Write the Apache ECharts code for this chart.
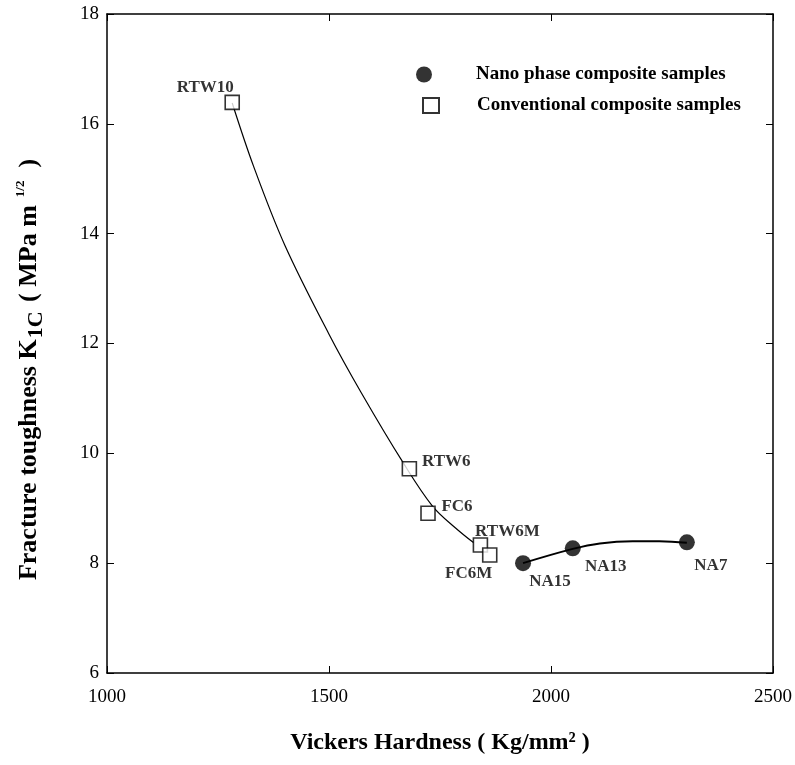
<!DOCTYPE html>
<html>
<head>
<meta charset="utf-8">
<script src="https://cdn.jsdelivr.net/npm/echarts@6/dist/echarts.min.js"></script>
<style>
html,body{margin:0;padding:0;background:#fff;}
#chart{width:795px;height:765px;}
</style>
</head>
<body>
<div id="chart"></div>
<script>
// ---- data ----
const conventionalNames = ['RTW10', 'RTW6', 'FC6', 'RTW6M', 'FC6M'];
const conventionalHV = [1282, 1681, 1723, 1841, 1862];
const conventionalK = [16.39, 9.72, 8.91, 8.33, 8.15];

const nanoNames = ['NA15', 'NA13', 'NA7'];
const nanoHV = [1937, 2049, 2306];
const nanoK = [8.00, 8.27, 8.38];

// fitted curves
const convFitHV = [1282, 1330, 1400, 1500, 1573, 1667, 1733, 1785, 1826];
const convFitK = [16.38, 15.23, 13.80, 12.17, 11.10, 9.83, 9.04, 8.64, 8.37];
const nanoFitHV = [1937, 2049, 2110, 2184, 2244, 2306];
const nanoFitK = [8.00, 8.26, 8.36, 8.40, 8.40, 8.37];

const xTicks = [1000, 1500, 2000, 2500];
const yTicks = [6, 8, 10, 12, 14, 16, 18];

// ---- label placement (styles, not data) ----
const labelOffset = {
  RTW10: [-27, -15], RTW6: [37, -7], FC6: [29, -7], RTW6M: [27, -13], FC6M: [-21, 19],
  NA15: [27, 18], NA13: [33, 18], NA7: [24, 23]
};

const serif = "'Liberation Serif', 'DejaVu Serif', serif";

function pts(names, xs, ys) {
  return names.map((n, i) => ({
    name: n,
    value: [xs[i], ys[i]],
    label: { offset: labelOffset[n] }
  }));
}
function line(xs, ys) { return xs.map((x, i) => [x, ys[i]]); }

const labelStyle = {
  show: true, position: 'inside', formatter: '{b}',
  fontFamily: serif, fontWeight: 'bold', fontSize: 17, color: '#000'
};

const legendText = { fontFamily: serif, fontWeight: 'bold', fontSize: 19, color: '#000' };

const chart = echarts.init(document.getElementById('chart'), null, { renderer: 'canvas' });
const axisLineStyle = { color: '#000', width: 1.5 };
chart.setOption({
  animation: false,
  backgroundColor: '#fff',
  grid: { left: 107, right: 18, top: 14, bottom: 92 },
  legend: [{
    left: 411, top: 60, itemWidth: 16, itemHeight: 16,
    data: ['Nano phase composite samples'],
    textStyle: Object.assign({ padding: [0, 0, 0, 39] }, legendText)
  }, {
    left: 417, top: 91, itemWidth: 16, itemHeight: 15,
    data: ['Conventional composite samples'],
    textStyle: Object.assign({ padding: [0, 0, 0, 33] }, legendText)
  }],
  xAxis: [{
    type: 'value', min: 1000, max: 2500, interval: 500, position: 'bottom',
    name: 'Vickers Hardness ( Kg/mm\u00B2 )', nameLocation: 'middle', nameGap: 58,
    nameTextStyle: { fontFamily: serif, fontWeight: 'bold', fontSize: 24, color: '#000' },
    axisLine: { lineStyle: axisLineStyle },
    axisTick: { inside: true, length: 7, lineStyle: { color: '#000' } },
    axisLabel: { fontFamily: serif, fontSize: 19, color: '#000', margin: 15,
      formatter: v => xTicks.includes(v) ? String(v) : '' },
    splitLine: { show: false }
  }, {
    type: 'value', min: 1000, max: 2500, interval: 500, position: 'top',
    axisLine: { lineStyle: axisLineStyle },
    axisTick: { inside: true, length: 7, lineStyle: { color: '#000' } },
    axisLabel: { show: false }, splitLine: { show: false }
  }],
  yAxis: [{
    type: 'value', min: 6, max: 18, interval: 2, position: 'left',
    name: '{b|Fracture toughness K}{sub|1C}{b| ( MPa m}{sup|1/2}{b|  )}',
    nameLocation: 'middle', nameGap: 60, nameRotate: 90,
    nameTextStyle: {
      padding: [0, 52, 0, 0],
      rich: {
        b: { fontFamily: serif, fontWeight: 'bold', fontSize: 26, color: '#000' },
        sub: { fontFamily: serif, fontWeight: 'bold', fontSize: 22, color: '#000', padding: [13, 3, 0, 1] },
        sup: { fontFamily: serif, fontWeight: 'bold', fontSize: 13, color: '#000', padding: [0, 0, 18, 8] }
      }
    },
    axisLine: { lineStyle: axisLineStyle },
    axisTick: { inside: true, length: 7, lineStyle: { color: '#000' } },
    axisLabel: { fontFamily: serif, fontSize: 19, color: '#000', margin: 8,
      formatter: v => yTicks.includes(v) ? String(v) : '' },
    splitLine: { show: false }
  }, {
    type: 'value', min: 6, max: 18, interval: 2, position: 'right',
    axisLine: { lineStyle: axisLineStyle },
    axisTick: { inside: true, length: 7, lineStyle: { color: '#000' } },
    axisLabel: { show: false }, splitLine: { show: false }
  }],
  series: [
    {
      name: 'conv-fit', type: 'line', smooth: 0.35, showSymbol: false, silent: true,
      data: line(convFitHV, convFitK), lineStyle: { color: '#000', width: 1.2 }, z: 1
    },
    {
      name: 'nano-fit', type: 'line', smooth: 0.4, showSymbol: false, silent: true,
      data: line(nanoFitHV, nanoFitK), lineStyle: { color: '#000', width: 2 }, z: 1
    },
    {
      name: 'Nano phase composite samples', type: 'scatter', symbol: 'circle', symbolSize: 16,
      itemStyle: { color: '#000' }, label: labelStyle,
      data: pts(nanoNames, nanoHV, nanoK), z: 3
    },
    {
      name: 'Conventional composite samples', type: 'scatter', symbol: 'rect', symbolSize: 14,
      itemStyle: { color: '#fff', borderColor: '#000', borderWidth: 1.6 }, label: labelStyle,
      data: pts(conventionalNames, conventionalHV, conventionalK), z: 3
    }
  ]
});
</script>
</body>
</html>
